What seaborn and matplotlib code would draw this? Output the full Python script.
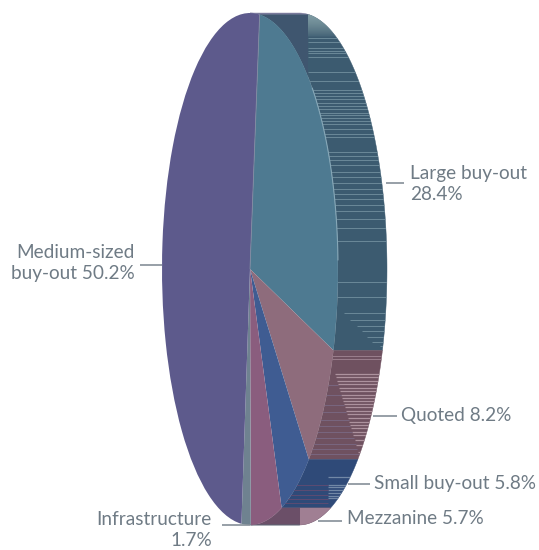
import numpy as np
import matplotlib
matplotlib.use("Agg")
import matplotlib.pyplot as plt
from matplotlib.patches import Polygon
import seaborn as sns

# Shares of the portfolio by investment type, clockwise from the top
categories = ["Large buy-out", "Quoted", "Small buy-out", "Mezzanine", "Infrastructure", "Medium-sized buy-out"]
shares = [28.4, 8.2, 5.8, 5.7, 1.7, 50.2]
label_texts = ["Large buy-out\n28.4%", "Quoted 8.2%", "Small buy-out 5.8%", "Mezzanine 5.7%",
               "Infrastructure\n1.7%", "Medium-sized\nbuy-out 50.2%"]
face_colors = ["#4e7a91", "#8e6c7c", "#3f5c92", "#8a5d7e", "#6f8290", "#5d5a8c"]
wall_colors = ["#3c5b70", "#6f5160", "#2f4a78", "#6b4f68", "#5b6b78", "#7a7a9c"]

# Layout of the tilted disc, in pixels
WIDTH, HEIGHT = 539, 550
CX, CY, RX, RY = 250, 269, 88, 256
DEPTH = 49
START_CLOCK = 6.3
TEXT = "#6f7b85"
LEADER = "#858f98"

# Light banding on the disc's rim, pixel rows
large_rows = [38, 42, 48, 51, 53, 57, 72, 81, 90, 93, 96, 99, 103, 106, 109, 113, 115, 118, 121,
              124, 129, 134, 137, 152, 156, 160, 165, 172, 177, 183, 189, 194, 199, 205, 211,
              219, 228, 241, 282, 297]
large_fade_rows = [313, 320, 326, 331, 337, 342, 346]
large_fade_starts = [344, 350, 357, 362, 367, 372, 380]
quoted_rows = [374, 377, 381, 384, 388, 391, 395, 398, 401, 404, 407, 411, 414, 418, 422, 425,
               428, 432, 435, 440, 445, 452]
quoted_dark_rows = [385, 395, 405, 412, 420, 426, 432, 438, 444, 449, 454]
small_rows = [477, 485, 487, 490, 493, 496, 498]
small_dark_rows = [485, 490, 495, 499, 503]

sns.set_theme(style="white")
plt.rcParams["font.family"] = ["Lato", "DejaVu Sans"]

fig = plt.figure(figsize=(WIDTH / 100, HEIGHT / 100), dpi=100)
ax = fig.add_axes([0, 0, 1, 1])


def px_x(x):
    return (np.asarray(x, dtype=float) - CX) / RX


def px_y(y):
    return (CY - np.asarray(y, dtype=float)) / RY


# Top face: a pie stretched into an ellipse by the unequal axis scales
wedges, _ = ax.pie(shares, colors=face_colors, startangle=90 - START_CLOCK, counterclock=False,
                   wedgeprops={"linewidth": 0})
ax.set_aspect("auto")
ax.set_xlim(px_x(0), px_x(WIDTH))
ax.set_ylim(px_y(HEIGHT), px_y(0))
ax.axis("off")
for w in wedges:
    w.set_zorder(5)

# Clockwise slice edges in degrees from the top of the disc
edges = START_CLOCK + np.concatenate([[0], np.cumsum(shares)]) * 3.6
depth = DEPTH / RX


def rim_polygon(a0, a1, color):
    """Rim band between two clockwise angles, limited to the visible half."""
    a0, a1 = max(a0, 0), min(a1, 180)
    t = np.radians(np.linspace(a0, a1, 80))
    x, y = np.sin(t), np.cos(t)
    pts = np.column_stack([np.r_[x, x[::-1] + depth], np.r_[y, y[::-1]]])
    poly = Polygon(pts, closed=True, facecolor=color, edgecolor=color, linewidth=0.3, zorder=1)
    ax.add_patch(poly)
    return poly


rims = {}
for i, name in enumerate(categories[:5]):
    rims[name] = rim_polygon(edges[i], edges[i + 1], wall_colors[i])
rim_polygon(edges[5] - 360, edges[6] - 360, wall_colors[5])


def bands(rows, x0, color, lw=0.7, clip=None, x1=WIDTH, alpha=1.0, zorder=2):
    lines = ax.hlines(px_y(rows), px_x(x0), px_x(x1), colors=color, linewidth=lw, alpha=alpha, zorder=zorder)
    lines.set_clip_path(clip)
    return lines


# Large buy-out rim: dark back section, pale fade at the top, then light bands
large = rims["Large buy-out"]
back = ax.axvspan(px_x(240), px_x(308), color="#3f566f", lw=0, zorder=1.5)
back.set_clip_path(large)
fade_rows = np.arange(14, 37)
for row, strength in zip(fade_rows, np.linspace(0.85, 0.1, fade_rows.size)):
    bands([row], 308, "#8aa6ab", lw=1.1, clip=large, alpha=strength)
bands(large_rows, 308, "#7a98a6", clip=large, alpha=0.75)
bands(large_fade_rows, large_fade_starts, "#7a98a6", clip=large, lw=0.7, alpha=0.75)

# Quoted rim: pale bands to the right of a darker triangular area
quoted = rims["Quoted"]
quoted_starts = np.interp(quoted_rows, [372, 458], [334, 360])
bands(quoted_rows, quoted_starts, "#ad929e", clip=quoted, lw=0.9)
bands(quoted_dark_rows, 300, "#7a6a84", clip=quoted, lw=0.6, x1=np.interp(quoted_dark_rows, [372, 458], [334, 360]))
bands([356, 359], 300, "#9b7f8d", clip=quoted, lw=0.7)

# Small buy-out rim
small = rims["Small buy-out"]
bands(small_rows, 328, "#7288a6", clip=small, lw=0.9)
bands(small_dark_rows, 280, "#5c4c72", clip=small, lw=0.7, x1=328)

# Mezzanine rim has a lighter section on its right
mezz_light = ax.axvspan(px_x(300), px_x(340), color="#a07f93", lw=0, zorder=1.5)
mezz_light.set_clip_path(rims["Mezzanine"])

# Thin highlight along the large buy-out arc and the slice boundary at the top
t = np.radians(np.linspace(45, 88, 50))
ax.plot(np.sin(t), np.cos(t), color="#86a7b7", lw=0.8, zorder=6)
top = np.radians(edges[0])
ax.plot([0, np.sin(top)], [0, np.cos(top)], color="#7f8aa0", lw=0.6, zorder=6)

# Leader lines (x0, x1, row in pixels)
leaders = [(386, 404, 183), (373, 397, 416), (348, 370, 484), (318, 342, 521), (222, 250, 525), (140, 162, 265)]
for x0, x1, row in leaders:
    ax.plot(px_x([x0, x1]), px_y([row, row]), color=LEADER, lw=1.2, zorder=0.5 if x1 != 250 else 7,
            solid_capstyle="butt")

# Labels
placements = [(410, 184, "left"), (401, 415, "left"), (374, 484, "left"), (347, 519, "left"),
              (212, 530, "right"), (135, 263, "right")]
for text, (x, y, ha) in zip(label_texts, placements):
    ax.text(px_x(x), px_y(y), text, ha=ha, va="center", color=TEXT, fontsize=13.7, linespacing=1.34, zorder=8,
            multialignment=ha)

fig.savefig("out.png", dpi=100, facecolor="white")
